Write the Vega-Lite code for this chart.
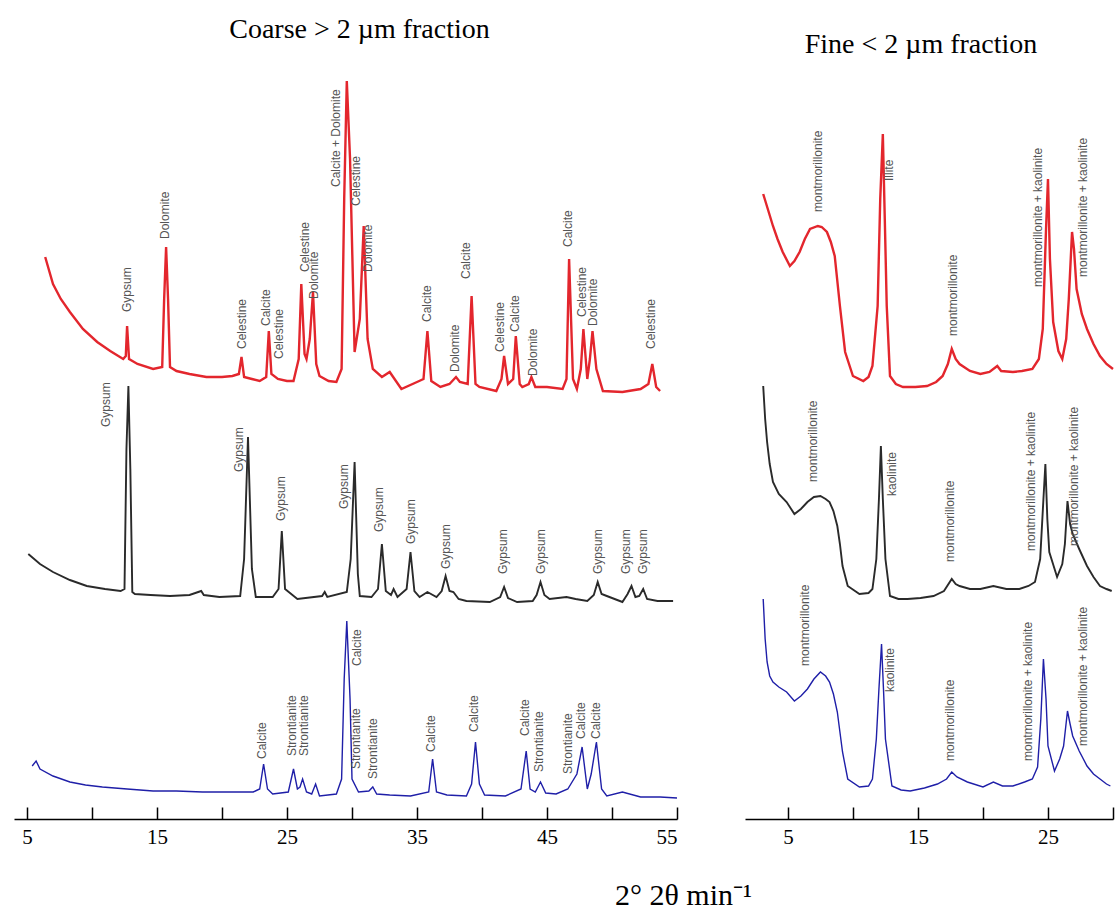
{
"$schema": "https://vega.github.io/schema/vega-lite/v6.json",
"background": "white",
"padding": {"left": 14, "top": 16, "right": 0, "bottom": 0},
"bounds": "flush",
"spacing": 68,
"config": {"view": {"stroke": null}},
"datasets": {
"coarse": [
{"sample":"upper","x":6.4,"y":562},{"sample":"upper","x":7.0,"y":535},{"sample":"upper","x":7.6,"y":520},{"sample":"upper","x":8.3,"y":507},{"sample":"upper","x":9.3,"y":490},{"sample":"upper","x":10.4,"y":477},{"sample":"upper","x":11.4,"y":468},{"sample":"upper","x":12.4,"y":460},{"sample":"upper","x":12.6,"y":463},{"sample":"upper","x":12.7,"y":493},{"sample":"upper","x":12.85,"y":460},{"sample":"upper","x":13.5,"y":455},{"sample":"upper","x":14.7,"y":450},{"sample":"upper","x":15.4,"y":452},{"sample":"upper","x":15.55,"y":520},{"sample":"upper","x":15.7,"y":572},{"sample":"upper","x":15.85,"y":520},{"sample":"upper","x":16.0,"y":452},{"sample":"upper","x":16.5,"y":448},{"sample":"upper","x":17.5,"y":445},{"sample":"upper","x":18.8,"y":442},{"sample":"upper","x":20.0,"y":442},{"sample":"upper","x":20.8,"y":443},{"sample":"upper","x":21.3,"y":445},{"sample":"upper","x":21.5,"y":462},{"sample":"upper","x":21.7,"y":442},{"sample":"upper","x":22.3,"y":440},{"sample":"upper","x":22.9,"y":438},{"sample":"upper","x":23.4,"y":442},{"sample":"upper","x":23.6,"y":488},{"sample":"upper","x":23.8,"y":445},{"sample":"upper","x":24.3,"y":440},{"sample":"upper","x":25.0,"y":438},{"sample":"upper","x":25.5,"y":438},{"sample":"upper","x":25.9,"y":460},{"sample":"upper","x":26.1,"y":535},{"sample":"upper","x":26.35,"y":465},{"sample":"upper","x":26.5,"y":460},{"sample":"upper","x":26.75,"y":480},{"sample":"upper","x":27.0,"y":527},{"sample":"upper","x":27.25,"y":455},{"sample":"upper","x":27.5,"y":443},{"sample":"upper","x":28.2,"y":438},{"sample":"upper","x":28.8,"y":437},{"sample":"upper","x":29.2,"y":450},{"sample":"upper","x":29.4,"y":620},{"sample":"upper","x":29.6,"y":738},{"sample":"upper","x":29.85,"y":660},{"sample":"upper","x":30.2,"y":467},{"sample":"upper","x":30.6,"y":500},{"sample":"upper","x":30.9,"y":593},{"sample":"upper","x":31.2,"y":480},{"sample":"upper","x":31.6,"y":450},{"sample":"upper","x":32.3,"y":442},{"sample":"upper","x":32.9,"y":447},{"sample":"upper","x":33.8,"y":430},{"sample":"upper","x":35.0,"y":437},{"sample":"upper","x":35.5,"y":440},{"sample":"upper","x":35.8,"y":488},{"sample":"upper","x":36.1,"y":438},{"sample":"upper","x":36.8,"y":432},{"sample":"upper","x":37.5,"y":435},{"sample":"upper","x":38.0,"y":442},{"sample":"upper","x":38.3,"y":437},{"sample":"upper","x":38.9,"y":435},{"sample":"upper","x":39.2,"y":523},{"sample":"upper","x":39.5,"y":435},{"sample":"upper","x":39.8,"y":432},{"sample":"upper","x":41.1,"y":428},{"sample":"upper","x":41.5,"y":440},{"sample":"upper","x":41.7,"y":463},{"sample":"upper","x":42.0,"y":435},{"sample":"upper","x":42.4,"y":440},{"sample":"upper","x":42.6,"y":483},{"sample":"upper","x":42.9,"y":435},{"sample":"upper","x":43.1,"y":432},{"sample":"upper","x":43.6,"y":435},{"sample":"upper","x":43.8,"y":442},{"sample":"upper","x":44.1,"y":432},{"sample":"upper","x":45.0,"y":432},{"sample":"upper","x":46.2,"y":430},{"sample":"upper","x":46.5,"y":440},{"sample":"upper","x":46.7,"y":560},{"sample":"upper","x":47.0,"y":440},{"sample":"upper","x":47.3,"y":430},{"sample":"upper","x":47.6,"y":450},{"sample":"upper","x":47.8,"y":490},{"sample":"upper","x":48.1,"y":440},{"sample":"upper","x":48.3,"y":460},{"sample":"upper","x":48.5,"y":488},{"sample":"upper","x":48.8,"y":450},{"sample":"upper","x":49.3,"y":428},{"sample":"upper","x":50.8,"y":427},{"sample":"upper","x":52.2,"y":430},{"sample":"upper","x":52.8,"y":435},{"sample":"upper","x":53.1,"y":455},{"sample":"upper","x":53.4,"y":432},{"sample":"upper","x":53.7,"y":428},
{"sample":"middle","x":5.1,"y":265},{"sample":"middle","x":6.0,"y":255},{"sample":"middle","x":7.0,"y":247},{"sample":"middle","x":8.3,"y":239},{"sample":"middle","x":9.6,"y":233},{"sample":"middle","x":11.0,"y":230},{"sample":"middle","x":12.2,"y":228},{"sample":"middle","x":12.5,"y":230},{"sample":"middle","x":12.65,"y":370},{"sample":"middle","x":12.8,"y":433},{"sample":"middle","x":12.95,"y":350},{"sample":"middle","x":13.1,"y":227},{"sample":"middle","x":13.3,"y":225},{"sample":"middle","x":14.5,"y":224},{"sample":"middle","x":16.0,"y":223},{"sample":"middle","x":17.5,"y":224},{"sample":"middle","x":18.4,"y":228},{"sample":"middle","x":18.6,"y":224},{"sample":"middle","x":19.8,"y":222},{"sample":"middle","x":21.4,"y":223},{"sample":"middle","x":21.7,"y":260},{"sample":"middle","x":22.0,"y":382},{"sample":"middle","x":22.3,"y":250},{"sample":"middle","x":22.6,"y":222},{"sample":"middle","x":23.9,"y":222},{"sample":"middle","x":24.35,"y":230},{"sample":"middle","x":24.6,"y":288},{"sample":"middle","x":24.85,"y":230},{"sample":"middle","x":25.8,"y":220},{"sample":"middle","x":27.7,"y":223},{"sample":"middle","x":27.9,"y":227},{"sample":"middle","x":28.1,"y":222},{"sample":"middle","x":29.6,"y":227},{"sample":"middle","x":29.9,"y":260},{"sample":"middle","x":30.2,"y":357},{"sample":"middle","x":30.45,"y":245},{"sample":"middle","x":30.6,"y":223},{"sample":"middle","x":31.5,"y":222},{"sample":"middle","x":32.0,"y":230},{"sample":"middle","x":32.3,"y":275},{"sample":"middle","x":32.6,"y":228},{"sample":"middle","x":33.0,"y":224},{"sample":"middle","x":33.2,"y":230},{"sample":"middle","x":33.5,"y":222},{"sample":"middle","x":34.2,"y":230},{"sample":"middle","x":34.5,"y":267},{"sample":"middle","x":34.8,"y":228},{"sample":"middle","x":35.2,"y":222},{"sample":"middle","x":35.8,"y":227},{"sample":"middle","x":36.5,"y":222},{"sample":"middle","x":36.9,"y":228},{"sample":"middle","x":37.2,"y":243},{"sample":"middle","x":37.5,"y":228},{"sample":"middle","x":37.8,"y":227},{"sample":"middle","x":38.2,"y":220},{"sample":"middle","x":38.8,"y":218},{"sample":"middle","x":40.6,"y":217},{"sample":"middle","x":41.4,"y":222},{"sample":"middle","x":41.7,"y":232},{"sample":"middle","x":42.0,"y":221},{"sample":"middle","x":42.7,"y":217},{"sample":"middle","x":43.9,"y":218},{"sample":"middle","x":44.2,"y":224},{"sample":"middle","x":44.5,"y":237},{"sample":"middle","x":44.8,"y":224},{"sample":"middle","x":45.2,"y":220},{"sample":"middle","x":46.5,"y":222},{"sample":"middle","x":47.2,"y":220},{"sample":"middle","x":48.1,"y":218},{"sample":"middle","x":48.6,"y":224},{"sample":"middle","x":48.9,"y":237},{"sample":"middle","x":49.2,"y":225},{"sample":"middle","x":49.6,"y":223},{"sample":"middle","x":50.8,"y":217},{"sample":"middle","x":51.2,"y":225},{"sample":"middle","x":51.5,"y":233},{"sample":"middle","x":51.8,"y":222},{"sample":"middle","x":52.1,"y":223},{"sample":"middle","x":52.4,"y":230},{"sample":"middle","x":52.7,"y":220},{"sample":"middle","x":53.5,"y":218},{"sample":"middle","x":54.7,"y":218},
{"sample":"lower","x":5.4,"y":53},{"sample":"lower","x":5.7,"y":58},{"sample":"lower","x":6.0,"y":50},{"sample":"lower","x":7.0,"y":43},{"sample":"lower","x":8.3,"y":37},{"sample":"lower","x":9.5,"y":34},{"sample":"lower","x":10.8,"y":32},{"sample":"lower","x":12.7,"y":30},{"sample":"lower","x":14.7,"y":28},{"sample":"lower","x":16.5,"y":28},{"sample":"lower","x":18.5,"y":27},{"sample":"lower","x":20.5,"y":27},{"sample":"lower","x":22.4,"y":27},{"sample":"lower","x":22.9,"y":30},{"sample":"lower","x":23.2,"y":55},{"sample":"lower","x":23.5,"y":30},{"sample":"lower","x":23.9,"y":25},{"sample":"lower","x":25.1,"y":27},{"sample":"lower","x":25.5,"y":50},{"sample":"lower","x":25.8,"y":30},{"sample":"lower","x":26.0,"y":32},{"sample":"lower","x":26.2,"y":40},{"sample":"lower","x":26.5,"y":27},{"sample":"lower","x":26.9,"y":25},{"sample":"lower","x":27.2,"y":35},{"sample":"lower","x":27.5,"y":23},{"sample":"lower","x":28.8,"y":25},{"sample":"lower","x":29.2,"y":40},{"sample":"lower","x":29.4,"y":140},{"sample":"lower","x":29.6,"y":198},{"sample":"lower","x":29.85,"y":120},{"sample":"lower","x":30.0,"y":40},{"sample":"lower","x":30.5,"y":27},{"sample":"lower","x":31.3,"y":28},{"sample":"lower","x":31.6,"y":32},{"sample":"lower","x":31.9,"y":25},{"sample":"lower","x":32.9,"y":24},{"sample":"lower","x":34.5,"y":23},{"sample":"lower","x":35.9,"y":27},{"sample":"lower","x":36.2,"y":60},{"sample":"lower","x":36.5,"y":27},{"sample":"lower","x":37.3,"y":24},{"sample":"lower","x":38.8,"y":23},{"sample":"lower","x":39.2,"y":35},{"sample":"lower","x":39.5,"y":77},{"sample":"lower","x":39.8,"y":35},{"sample":"lower","x":40.2,"y":24},{"sample":"lower","x":41.8,"y":23},{"sample":"lower","x":43.0,"y":30},{"sample":"lower","x":43.4,"y":68},{"sample":"lower","x":43.7,"y":30},{"sample":"lower","x":44.1,"y":27},{"sample":"lower","x":44.5,"y":37},{"sample":"lower","x":44.9,"y":26},{"sample":"lower","x":45.7,"y":25},{"sample":"lower","x":46.6,"y":30},{"sample":"lower","x":47.3,"y":45},{"sample":"lower","x":47.7,"y":72},{"sample":"lower","x":48.1,"y":30},{"sample":"lower","x":48.4,"y":45},{"sample":"lower","x":48.8,"y":77},{"sample":"lower","x":49.2,"y":30},{"sample":"lower","x":49.6,"y":23},{"sample":"lower","x":50.8,"y":27},{"sample":"lower","x":52.2,"y":22},{"sample":"lower","x":53.7,"y":22},{"sample":"lower","x":55.0,"y":21}
],
"coarseLabels": [
{"x":12.7,"y":507,"label":"Gypsum"},{"x":15.6,"y":580,"label":"Dolomite"},{"x":21.5,"y":470,"label":"Celestine"},{"x":23.4,"y":493,"label":"Calcite"},{"x":24.4,"y":460,"label":"Celestine"},{"x":26.4,"y":547,"label":"Celestine"},{"x":27.1,"y":520,"label":"Dolomite"},{"x":28.8,"y":632,"label":"Calcite + Dolomite"},{"x":30.3,"y":613,"label":"Celestine"},{"x":31.2,"y":547,"label":"Dolomite"},{"x":35.8,"y":497,"label":"Calcite"},{"x":37.9,"y":447,"label":"Dolomite"},{"x":38.8,"y":540,"label":"Calcite"},{"x":41.4,"y":467,"label":"Celestine"},{"x":42.5,"y":487,"label":"Calcite"},{"x":43.9,"y":443,"label":"Dolomite"},{"x":46.6,"y":572,"label":"Calcite"},{"x":47.7,"y":502,"label":"Celestine"},{"x":48.5,"y":493,"label":"Dolomite"},{"x":53.0,"y":470,"label":"Celestine"},
{"x":11.1,"y":392,"label":"Gypsum"},{"x":21.3,"y":347,"label":"Gypsum"},{"x":24.5,"y":298,"label":"Gypsum"},{"x":29.4,"y":310,"label":"Gypsum"},{"x":32.1,"y":287,"label":"Gypsum"},{"x":34.5,"y":275,"label":"Gypsum"},{"x":37.2,"y":250,"label":"Gypsum"},{"x":41.6,"y":245,"label":"Gypsum"},{"x":44.5,"y":245,"label":"Gypsum"},{"x":48.9,"y":245,"label":"Gypsum"},{"x":51.1,"y":245,"label":"Gypsum"},{"x":52.4,"y":245,"label":"Gypsum"},
{"x":23.1,"y":60,"label":"Calcite"},{"x":25.4,"y":63,"label":"Strontianite"},{"x":26.3,"y":63,"label":"Strontianite"},{"x":30.4,"y":153,"label":"Calcite"},{"x":30.3,"y":50,"label":"Strontianite"},{"x":31.6,"y":40,"label":"Strontianite"},{"x":36.1,"y":67,"label":"Calcite"},{"x":39.4,"y":87,"label":"Calcite"},{"x":43.3,"y":83,"label":"Calcite"},{"x":44.4,"y":47,"label":"Strontianite"},{"x":46.6,"y":45,"label":"Strontianite"},{"x":47.6,"y":80,"label":"Calcite"},{"x":48.8,"y":80,"label":"Calcite"}
],
"fine": [
{"sample":"upper","x":3.1,"y":625},{"sample":"upper","x":3.5,"y":608},{"sample":"upper","x":3.85,"y":593},{"sample":"upper","x":4.2,"y":580},{"sample":"upper","x":4.6,"y":567},{"sample":"upper","x":5.15,"y":553},{"sample":"upper","x":5.5,"y":558},{"sample":"upper","x":5.9,"y":567},{"sample":"upper","x":6.3,"y":580},{"sample":"upper","x":6.7,"y":590},{"sample":"upper","x":7.3,"y":593},{"sample":"upper","x":7.6,"y":592},{"sample":"upper","x":8.0,"y":587},{"sample":"upper","x":8.3,"y":577},{"sample":"upper","x":8.6,"y":563},{"sample":"upper","x":9.0,"y":513},{"sample":"upper","x":9.4,"y":467},{"sample":"upper","x":10.0,"y":443},{"sample":"upper","x":10.8,"y":438},{"sample":"upper","x":11.2,"y":442},{"sample":"upper","x":11.5,"y":453},{"sample":"upper","x":11.9,"y":513},{"sample":"upper","x":12.1,"y":620},{"sample":"upper","x":12.3,"y":685},{"sample":"upper","x":12.45,"y":600},{"sample":"upper","x":12.6,"y":513},{"sample":"upper","x":12.85,"y":443},{"sample":"upper","x":13.3,"y":435},{"sample":"upper","x":13.85,"y":432},{"sample":"upper","x":14.8,"y":432},{"sample":"upper","x":15.7,"y":433},{"sample":"upper","x":16.4,"y":437},{"sample":"upper","x":16.9,"y":443},{"sample":"upper","x":17.3,"y":455},{"sample":"upper","x":17.6,"y":470},{"sample":"upper","x":17.9,"y":460},{"sample":"upper","x":18.2,"y":455},{"sample":"upper","x":19.0,"y":448},{"sample":"upper","x":19.8,"y":445},{"sample":"upper","x":20.5,"y":447},{"sample":"upper","x":21.1,"y":453},{"sample":"upper","x":21.4,"y":448},{"sample":"upper","x":22.3,"y":447},{"sample":"upper","x":23.0,"y":448},{"sample":"upper","x":23.8,"y":450},{"sample":"upper","x":24.3,"y":460},{"sample":"upper","x":24.6,"y":490},{"sample":"upper","x":24.85,"y":590},{"sample":"upper","x":25.0,"y":640},{"sample":"upper","x":25.15,"y":560},{"sample":"upper","x":25.4,"y":497},{"sample":"upper","x":25.8,"y":468},{"sample":"upper","x":26.1,"y":460},{"sample":"upper","x":26.4,"y":480},{"sample":"upper","x":26.6,"y":520},{"sample":"upper","x":26.85,"y":587},{"sample":"upper","x":27.0,"y":570},{"sample":"upper","x":27.2,"y":530},{"sample":"upper","x":27.6,"y":505},{"sample":"upper","x":28.0,"y":490},{"sample":"upper","x":28.5,"y":475},{"sample":"upper","x":29.0,"y":463},{"sample":"upper","x":29.5,"y":455},{"sample":"upper","x":30.0,"y":450},
{"sample":"middle","x":3.1,"y":433},{"sample":"middle","x":3.25,"y":400},{"sample":"middle","x":3.4,"y":377},{"sample":"middle","x":3.6,"y":355},{"sample":"middle","x":3.85,"y":337},{"sample":"middle","x":4.3,"y":325},{"sample":"middle","x":4.9,"y":317},{"sample":"middle","x":5.5,"y":305},{"sample":"middle","x":6.0,"y":310},{"sample":"middle","x":6.5,"y":317},{"sample":"middle","x":7.0,"y":322},{"sample":"middle","x":7.5,"y":323},{"sample":"middle","x":7.9,"y":320},{"sample":"middle","x":8.2,"y":317},{"sample":"middle","x":8.5,"y":308},{"sample":"middle","x":8.8,"y":293},{"sample":"middle","x":9.0,"y":275},{"sample":"middle","x":9.2,"y":253},{"sample":"middle","x":9.6,"y":233},{"sample":"middle","x":10.5,"y":225},{"sample":"middle","x":11.2,"y":226},{"sample":"middle","x":11.5,"y":230},{"sample":"middle","x":11.8,"y":260},{"sample":"middle","x":12.0,"y":320},{"sample":"middle","x":12.15,"y":373},{"sample":"middle","x":12.3,"y":320},{"sample":"middle","x":12.5,"y":260},{"sample":"middle","x":12.85,"y":223},{"sample":"middle","x":13.5,"y":220},{"sample":"middle","x":14.2,"y":220},{"sample":"middle","x":15.2,"y":221},{"sample":"middle","x":16.2,"y":223},{"sample":"middle","x":17.0,"y":228},{"sample":"middle","x":17.6,"y":240},{"sample":"middle","x":17.9,"y":235},{"sample":"middle","x":18.2,"y":233},{"sample":"middle","x":19.0,"y":230},{"sample":"middle","x":19.8,"y":230},{"sample":"middle","x":20.8,"y":233},{"sample":"middle","x":21.8,"y":230},{"sample":"middle","x":22.8,"y":230},{"sample":"middle","x":23.5,"y":233},{"sample":"middle","x":24.0,"y":237},{"sample":"middle","x":24.4,"y":260},{"sample":"middle","x":24.65,"y":320},{"sample":"middle","x":24.8,"y":355},{"sample":"middle","x":24.95,"y":300},{"sample":"middle","x":25.1,"y":267},{"sample":"middle","x":25.7,"y":242},{"sample":"middle","x":26.1,"y":255},{"sample":"middle","x":26.3,"y":275},{"sample":"middle","x":26.5,"y":318},{"sample":"middle","x":26.7,"y":295},{"sample":"middle","x":26.9,"y":285},{"sample":"middle","x":27.4,"y":270},{"sample":"middle","x":28.0,"y":253},{"sample":"middle","x":28.5,"y":242},{"sample":"middle","x":29.0,"y":233},{"sample":"middle","x":29.5,"y":230},{"sample":"middle","x":29.9,"y":228},
{"sample":"lower","x":3.1,"y":220},{"sample":"lower","x":3.25,"y":180},{"sample":"lower","x":3.4,"y":157},{"sample":"lower","x":3.6,"y":143},{"sample":"lower","x":3.85,"y":137},{"sample":"lower","x":4.3,"y":132},{"sample":"lower","x":4.9,"y":127},{"sample":"lower","x":5.5,"y":118},{"sample":"lower","x":6.0,"y":123},{"sample":"lower","x":6.5,"y":130},{"sample":"lower","x":7.0,"y":140},{"sample":"lower","x":7.5,"y":147},{"sample":"lower","x":7.9,"y":143},{"sample":"lower","x":8.2,"y":137},{"sample":"lower","x":8.5,"y":125},{"sample":"lower","x":8.8,"y":107},{"sample":"lower","x":9.0,"y":87},{"sample":"lower","x":9.2,"y":67},{"sample":"lower","x":9.6,"y":40},{"sample":"lower","x":10.5,"y":32},{"sample":"lower","x":11.2,"y":33},{"sample":"lower","x":11.5,"y":40},{"sample":"lower","x":11.8,"y":80},{"sample":"lower","x":12.0,"y":130},{"sample":"lower","x":12.2,"y":175},{"sample":"lower","x":12.35,"y":130},{"sample":"lower","x":12.5,"y":80},{"sample":"lower","x":13.0,"y":33},{"sample":"lower","x":13.7,"y":29},{"sample":"lower","x":14.4,"y":28},{"sample":"lower","x":15.5,"y":31},{"sample":"lower","x":16.5,"y":35},{"sample":"lower","x":17.2,"y":40},{"sample":"lower","x":17.6,"y":47},{"sample":"lower","x":18.0,"y":42},{"sample":"lower","x":18.8,"y":37},{"sample":"lower","x":20.0,"y":32},{"sample":"lower","x":20.8,"y":37},{"sample":"lower","x":21.5,"y":33},{"sample":"lower","x":22.3,"y":33},{"sample":"lower","x":23.2,"y":37},{"sample":"lower","x":23.8,"y":40},{"sample":"lower","x":24.2,"y":52},{"sample":"lower","x":24.45,"y":100},{"sample":"lower","x":24.65,"y":160},{"sample":"lower","x":24.85,"y":120},{"sample":"lower","x":25.0,"y":73},{"sample":"lower","x":25.5,"y":48},{"sample":"lower","x":25.9,"y":60},{"sample":"lower","x":26.2,"y":73},{"sample":"lower","x":26.5,"y":108},{"sample":"lower","x":26.7,"y":95},{"sample":"lower","x":26.9,"y":83},{"sample":"lower","x":27.4,"y":68},{"sample":"lower","x":28.0,"y":53},{"sample":"lower","x":28.5,"y":45},{"sample":"lower","x":29.0,"y":40},{"sample":"lower","x":29.5,"y":35},{"sample":"lower","x":29.8,"y":33}
],
"fineLabels": [
{"x":7.3,"y":607,"label":"montmorillonite"},{"x":12.8,"y":638,"label":"Illite"},{"x":17.7,"y":483,"label":"montmorillonite"},{"x":24.2,"y":532,"label":"montmorillonite + kaolinite"},{"x":27.7,"y":542,"label":"montmorillonite + kaolinite"},
{"x":6.9,"y":337,"label":"montmorillonite"},{"x":13.0,"y":323,"label":"kaolinite"},{"x":17.5,"y":257,"label":"montmorillonite"},{"x":23.7,"y":268,"label":"montmorillonite + kaolinite"},{"x":27.0,"y":273,"label":"montmorillonite + kaolinite"},
{"x":6.3,"y":153,"label":"montmorillonite"},{"x":12.85,"y":127,"label":"kaolinite"},{"x":17.5,"y":58,"label":"montmorillonite"},{"x":23.5,"y":58,"label":"montmorillonite + kaolinite"},{"x":27.7,"y":73,"label":"montmorillonite + kaolinite"}
]
},
"hconcat": [
{
"width": 663, "height": 760,
"title": {"text": "Coarse > 2 µm fraction", "font": "Liberation Serif", "fontSize": 28, "fontWeight": "normal", "color": "black", "baseline": "bottom", "frame": "group", "offset": -13, "dx": 14},
"layer": [
{"data": {"name": "coarse"},
 "mark": {"type": "line"},
 "encoding": {
  "x": {"field": "x", "type": "quantitative", "scale": {"domain": [4, 55], "nice": false, "zero": false},
   "axis": {"values": [5,10,15,20,25,30,35,40,45,50,55], "labelExpr": "datum.value % 10 == 5 ? datum.label : ''", "grid": false, "tickSize": -12, "labelPadding": 19, "domainColor": "black", "domainWidth": 1.5, "tickColor": "black", "tickWidth": 1.5, "labelFont": "Liberation Serif", "labelFontSize": 21, "labelColor": "black",
    "title": "2° 2θ min⁻¹", "titleFont": "Liberation Serif", "titleFontSize": 30, "titleFontWeight": "normal", "titleColor": "black", "titleX": 669, "titleY": 76, "titleAlign": "center", "titleBaseline": "middle"}},
  "y": {"field": "y", "type": "quantitative", "scale": {"domain": [0, 760], "nice": false}, "axis": null},
  "color": {"field": "sample", "type": "nominal", "scale": {"domain": ["upper", "middle", "lower"], "range": ["#e3262d", "#2a2a2a", "#1f1fa8"]}, "legend": null},
  "strokeWidth": {"field": "sample", "type": "nominal", "scale": {"domain": ["upper", "middle", "lower"], "range": [2.4, 1.4, 2]}, "legend": null}
 }},
{"data": {"name": "coarseLabels"},
 "mark": {"type": "text", "angle": 270, "align": "left", "baseline": "middle", "font": "Liberation Sans", "fontSize": 12, "color": "#555555"},
 "encoding": {
  "x": {"field": "x", "type": "quantitative"},
  "y": {"field": "y", "type": "quantitative"},
  "text": {"field": "label", "type": "nominal"}
 }}
]
},
{
"width": 368, "height": 760,
"title": {"text": "Fine < 2 µm fraction", "font": "Liberation Serif", "fontSize": 28, "fontWeight": "normal", "color": "black", "baseline": "bottom", "frame": "group", "offset": -28, "dx": -8},
"layer": [
{"data": {"name": "fine"},
 "mark": {"type": "line"},
 "encoding": {
  "x": {"field": "x", "type": "quantitative", "scale": {"domain": [1.7, 30], "nice": false, "zero": false},
   "axis": {"values": [5,10,15,20,25,30], "labelExpr": "datum.value % 10 == 5 ? datum.label : ''", "grid": false, "tickSize": -12, "labelPadding": 19, "domainColor": "black", "domainWidth": 1.5, "tickColor": "black", "tickWidth": 1.5, "labelFont": "Liberation Serif", "labelFontSize": 21, "labelColor": "black", "title": null}},
  "y": {"field": "y", "type": "quantitative", "scale": {"domain": [0, 760], "nice": false}, "axis": null},
  "color": {"field": "sample", "type": "nominal", "scale": {"domain": ["upper", "middle", "lower"], "range": ["#e3262d", "#2a2a2a", "#1f1fa8"]}, "legend": null},
  "strokeWidth": {"field": "sample", "type": "nominal", "scale": {"domain": ["upper", "middle", "lower"], "range": [2.6, 2.2, 2.2]}, "legend": null}
 }},
{"data": {"name": "fineLabels"},
 "mark": {"type": "text", "angle": 270, "align": "left", "baseline": "middle", "font": "Liberation Sans", "fontSize": 12, "color": "#555555"},
 "encoding": {
  "x": {"field": "x", "type": "quantitative"},
  "y": {"field": "y", "type": "quantitative"},
  "text": {"field": "label", "type": "nominal"}
 }}
]
}
]
}
